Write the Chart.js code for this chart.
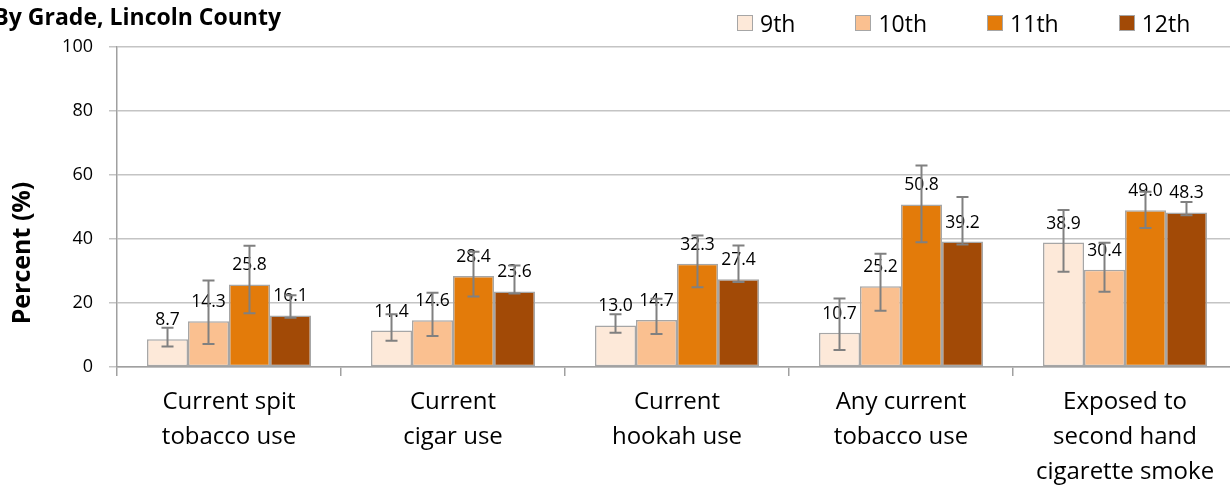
<!DOCTYPE html>
<html>
<head>
<meta charset="utf-8">
<script src="https://cdn.jsdelivr.net/npm/chart.js@4.4.1/dist/chart.umd.min.js"></script>
<style>
  html, body { margin: 0; padding: 0; background: #fff; overflow: hidden; }
  #wrap { position: relative; width: 1240px; height: 485px; }
  #legend { position: absolute; top: 7px; left: 737px; display: flex; font: 23px "Open Sans", sans-serif; color: #000; }
  #legend .item { display: flex; align-items: center; margin-right: 60px; }
  #legend .box { width: 14px; height: 14px; border: 1px solid #a6a6a6; margin-right: 7px; }
</style>
</head>
<body>
<div id="wrap">
  <canvas id="myChart" width="1240" height="485"></canvas>
  <div id="legend"></div>
</div>
<script>
var categories = [
    ["Current spit", "tobacco use"],
    ["Current", "cigar use"],
    ["Current", "hookah use"],
    ["Any current", "tobacco use"],
    ["Exposed to", "second hand", "cigarette smoke"]
];
var grades = ["9th", "10th", "11th", "12th"];

var grade9 = [8.7, 11.4, 13.0, 10.7, 38.9];
var grade10 = [14.3, 14.6, 14.7, 25.2, 30.4];
var grade11 = [25.8, 28.4, 32.3, 50.8, 49.0];
var grade12 = [16.1, 23.6, 27.4, 39.2, 48.3];

// confidence interval ends
var low9 = [6.4, 8.2, 10.7, 5.3, 29.8];
var high9 = [12.3, 16.5, 16.5, 21.4, 49.1];
var low10 = [7.2, 9.7, 10.3, 17.6, 23.5];
var high10 = [27.0, 23.2, 21.3, 35.4, 38.8];
var low11 = [16.8, 22.0, 24.9, 39.0, 43.4];
var high11 = [37.9, 36.0, 41.1, 63.0, 54.8];
var low12 = [15.4, 23.0, 26.6, 38.3, 47.4];
var high12 = [22.4, 31.7, 38.0, 53.1, 51.6];

var yTicks = [0, 20, 40, 60, 80, 100];

var colors = ["#FDE9D9", "#FAC090", "#E37B0A", "#A24A06"];
var values = [grade9, grade10, grade11, grade12];
var lows = [low9, low10, low11, low12];
var highs = [high9, high10, high11, high12];

var datasets = grades.map(function (g, i) {
    return {
        label: g,
        data: values[i],
        low: lows[i],
        high: highs[i],
        backgroundColor: colors[i],
        borderColor: "#A6A6A6",
        borderWidth: 1.5,
        borderSkipped: false,
        categoryPercentage: 0.732,
        barPercentage: 1.0
    };
});

// html legend
var legendEl = document.getElementById("legend");
grades.forEach(function (g, i) {
    legendEl.innerHTML += '<div class="item"><div class="box" style="background:' + colors[i] + '"></div>' + g + '</div>';
});

var extras = {
    id: "extras",
    afterDatasetsDraw: function (chart) {
        var ctx = chart.ctx;
        var y = chart.scales.y;
        ctx.save();
        // labels first, error bars over them
        chart.data.datasets.forEach(function (ds, i) {
            chart.getDatasetMeta(i).data.forEach(function (bar, j) {
                ctx.fillStyle = "#000";
                ctx.font = "17.5px 'Open Sans', sans-serif";
                ctx.textAlign = "center";
                ctx.textBaseline = "alphabetic";
                ctx.fillText(ds.data[j].toFixed(1), bar.x, bar.y - 14);
            });
        });
        ctx.strokeStyle = "#808080";
        ctx.lineWidth = 2;
        chart.data.datasets.forEach(function (ds, i) {
            chart.getDatasetMeta(i).data.forEach(function (bar, j) {
                var yl = y.getPixelForValue(ds.low[j]);
                var yh = y.getPixelForValue(ds.high[j]);
                ctx.beginPath();
                ctx.moveTo(bar.x, yl); ctx.lineTo(bar.x, yh);
                ctx.moveTo(bar.x - 6, yl); ctx.lineTo(bar.x + 6, yl);
                ctx.moveTo(bar.x - 6, yh); ctx.lineTo(bar.x + 6, yh);
                ctx.stroke();
            });
        });
        // title and y axis title
        ctx.fillStyle = "#000";
        ctx.font = "bold 23px 'Open Sans', sans-serif";
        ctx.textAlign = "right";
        ctx.textBaseline = "alphabetic";
        ctx.fillText("By Grade, Lincoln County", 281, 25);
        ctx.translate(23, 253);
        ctx.rotate(-Math.PI / 2);
        ctx.textAlign = "center";
        ctx.textBaseline = "middle";
        ctx.font = "bold 25px 'Open Sans', sans-serif";
        ctx.fillText("Percent (%)", 0, 0);
        ctx.restore();
    }
};

var ctx = document.getElementById("myChart").getContext("2d");
var chart = new Chart(ctx, {
    type: "bar",
    data: {
        labels: categories,
        datasets: datasets
    },
    options: {
        responsive: false,
        animation: false,
        layout: { padding: { top: 47, right: 3, left: 0, bottom: 0 } },
        plugins: {
            legend: { display: false },
            title: { display: false },
            tooltip: { enabled: false }
        },
        scales: {
            x: {
                afterFit: function (axis) { axis.height = 118; },
                grid: { drawOnChartArea: false, offset: true, tickLength: 9, color: "#A0A0A0", lineWidth: 1.5 },
                border: { color: "#A0A0A0", width: 1.5 },
                ticks: { color: "#000", padding: 9, maxRotation: 0, autoSkip: false,
                         font: { family: "'Open Sans', sans-serif", size: 24, lineHeight: 1.45 } }
            },
            y: {
                min: 0,
                max: 100,
                afterBuildTicks: function (axis) {
                    axis.ticks = yTicks.map(function (v) { return { value: v }; });
                },
                afterFit: function (axis) { axis.width = 117; },
                grid: { color: "#C4C4C4", lineWidth: 1.5, tickLength: 8 },
                border: { color: "#A0A0A0", width: 1.5 },
                ticks: { color: "#000", padding: 16,
                         font: { family: "'Open Sans', sans-serif", size: 18 } }
            }
        }
    },
    plugins: [extras]
});
</script>
</body>
</html>
